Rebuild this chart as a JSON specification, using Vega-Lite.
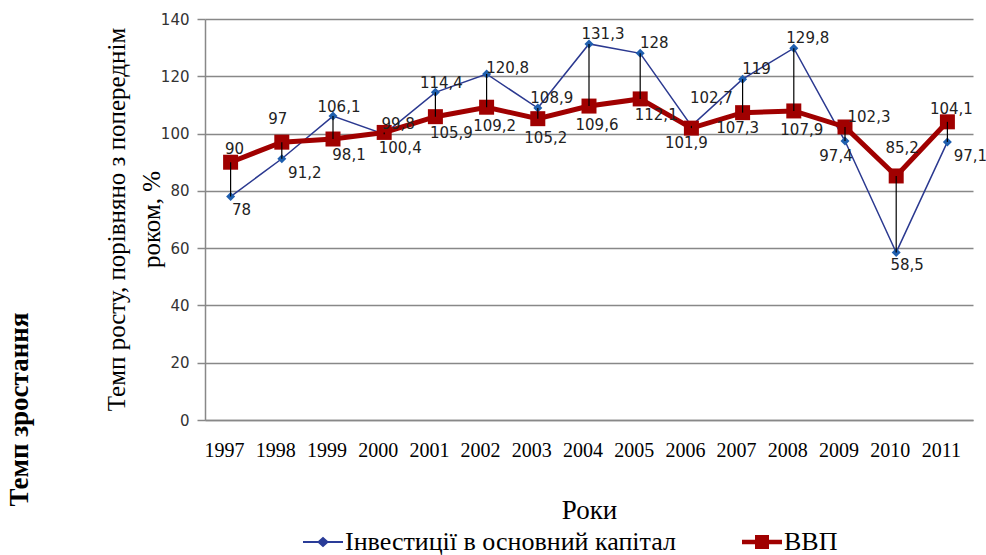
{
  "$schema": "https://vega.github.io/schema/vega-lite/v6.json",
  "width": 768,
  "height": 401,
  "autosize": {"type": "none"},
  "padding": {"left": 205, "top": 19, "right": 13, "bottom": 135},
  "background": "white",
  "title": {
    "text": "Темп зростання",
    "orient": "left",
    "anchor": "middle",
    "font": "Liberation Serif",
    "fontSize": 27,
    "fontWeight": "bold",
    "color": "#000",
    "offset": 70,
    "dx": -190
  },
  "config": {
    "view": {"stroke": null},
    "legend": {"labelFont": "Liberation Serif", "labelFontSize": 26, "labelColor": "#000"},
    "axisY": {"titleFont": "Liberation Serif"},
    "locale": {"number": {"decimal": ",", "thousands": " ", "grouping": [3], "currency": ["", ""]}}
  },
  "data": {
    "values": [
      {"year": "1997", "series": "Інвестиції в основний капітал", "value": 78},
      {"year": "1998", "series": "Інвестиції в основний капітал", "value": 91.2},
      {"year": "1999", "series": "Інвестиції в основний капітал", "value": 106.1},
      {"year": "2000", "series": "Інвестиції в основний капітал", "value": 99.8},
      {"year": "2001", "series": "Інвестиції в основний капітал", "value": 114.4},
      {"year": "2002", "series": "Інвестиції в основний капітал", "value": 120.8},
      {"year": "2003", "series": "Інвестиції в основний капітал", "value": 108.9},
      {"year": "2004", "series": "Інвестиції в основний капітал", "value": 131.3},
      {"year": "2005", "series": "Інвестиції в основний капітал", "value": 128},
      {"year": "2006", "series": "Інвестиції в основний капітал", "value": 102.7},
      {"year": "2007", "series": "Інвестиції в основний капітал", "value": 119},
      {"year": "2008", "series": "Інвестиції в основний капітал", "value": 129.8},
      {"year": "2009", "series": "Інвестиції в основний капітал", "value": 97.4},
      {"year": "2010", "series": "Інвестиції в основний капітал", "value": 58.5},
      {"year": "2011", "series": "Інвестиції в основний капітал", "value": 97.1},
      {"year": "1997", "series": "ВВП", "value": 90},
      {"year": "1998", "series": "ВВП", "value": 97},
      {"year": "1999", "series": "ВВП", "value": 98.1},
      {"year": "2000", "series": "ВВП", "value": 100.4},
      {"year": "2001", "series": "ВВП", "value": 105.9},
      {"year": "2002", "series": "ВВП", "value": 109.2},
      {"year": "2003", "series": "ВВП", "value": 105.2},
      {"year": "2004", "series": "ВВП", "value": 109.6},
      {"year": "2005", "series": "ВВП", "value": 112.1},
      {"year": "2006", "series": "ВВП", "value": 101.9},
      {"year": "2007", "series": "ВВП", "value": 107.3},
      {"year": "2008", "series": "ВВП", "value": 107.9},
      {"year": "2009", "series": "ВВП", "value": 102.3},
      {"year": "2010", "series": "ВВП", "value": 85.2},
      {"year": "2011", "series": "ВВП", "value": 104.1}
    ]
  },
  "encoding": {
    "x": {
      "field": "year",
      "type": "ordinal",
      "sort": "ascending",
      "scale": {"type": "band", "paddingInner": 0, "paddingOuter": 0},
      "axis": {
        "title": "Роки",
        "titleFont": "Liberation Serif",
        "titleFontSize": 27,
        "titleFontWeight": "normal",
        "titleColor": "#000",
        "titleY": 98,
        "titleBaseline": "alphabetic",
        "labelAngle": 0,
        "labelFont": "Liberation Serif",
        "labelFontSize": 20,
        "labelColor": "#000",
        "labelPadding": 20,
        "labelOffset": -6,
        "ticks": false,
        "grid": false,
        "domainColor": "#888",
        "domainWidth": 1.5
      }
    },
    "y": {
      "field": "value",
      "type": "quantitative",
      "scale": {"domain": [0, 140], "nice": false},
      "axis": {
        "values": [0, 20, 40, 60, 80, 100, 120, 140],
        "title": ["Темп росту, порівняно з попереднім", "роком, %"],
        "titleFont": "Liberation Serif",
        "titleFontSize": 25,
        "titleFontWeight": "normal",
        "titleColor": "#000",
        "titleX": -101,
        "titleY": 200,
        "titleAlign": "center",
        "titleBaseline": "top",
        "titleLineHeight": 35,
        "labelFont": "DejaVu Sans",
        "labelFontSize": 15,
        "labelColor": "#333",
        "labelPadding": 8,
        "tickSize": 8,
        "tickColor": "#888",
        "tickWidth": 1.5,
        "domainColor": "#888",
        "domainWidth": 1.5,
        "gridColor": "#888",
        "gridWidth": 1.5
      }
    }
  },
  "layer": [
    {
      "transform": [{"filter": "datum.series != 'ВВП'"}],
      "mark": {"type": "line", "color": "#2B3990", "strokeWidth": 1.5}
    },
    {
      "transform": [{"filter": "datum.series != 'ВВП'"}],
      "mark": {"type": "point", "shape": "diamond", "filled": true, "size": 81, "color": "#1F5FAF", "opacity": 1}
    },
    {
      "transform": [{"filter": "datum.series == 'ВВП'"}],
      "mark": {"type": "line", "color": "#A00000", "strokeWidth": 5}
    },
    {
      "transform": [{"filter": "datum.series == 'ВВП'"}],
      "mark": {"type": "point", "shape": "square", "filled": true, "size": 225, "color": "#A00000", "opacity": 1}
    },
    {
      "mark": {"type": "rule", "color": "#000", "strokeWidth": 1.2},
      "encoding": {
        "y": {"aggregate": "min", "field": "value", "type": "quantitative"},
        "y2": {"aggregate": "max", "field": "value"}
      }
    },
    {
      "mark": {"type": "point", "filled": true, "opacity": 0},
      "encoding": {
        "color": {
          "field": "series",
          "type": "nominal",
          "scale": {"domain": ["Інвестиції в основний капітал", "ВВП"], "range": ["#2A3C98", "#A00000"]},
          "legend": {
            "title": null,
            "orient": "none",
            "legendX": 98,
            "legendY": 503,
            "direction": "horizontal",
            "columns": 2,
            "columnPadding": 66,
            "symbolSize": 1600,
            "symbolOpacity": 1,
            "symbolStrokeWidth": 0,
            "labelFont": "Liberation Serif",
            "labelFontSize": 26,
            "labelColor": "#000",
            "labelOffset": 2,
            "labelLimit": 0
          }
        },
        "shape": {
          "field": "series",
          "type": "nominal",
          "scale": {
            "domain": ["Інвестиції в основний капітал", "ВВП"],
            "range": [
              "M-1,-0.045L-0.24,-0.045L0,-0.26L0.24,-0.045L1,-0.045L1,0.045L0.24,0.045L0,0.26L-0.24,0.045L-1,0.045Z",
              "M-1,-0.11L-0.35,-0.11L-0.35,-0.35L0.35,-0.35L0.35,-0.11L1,-0.11L1,0.11L0.35,0.11L0.35,0.35L-0.35,0.35L-0.35,0.11L-1,0.11Z"
            ]
          },
          "legend": {
            "title": null,
            "orient": "none",
            "legendX": 98,
            "legendY": 503,
            "direction": "horizontal",
            "columns": 2,
            "columnPadding": 66,
            "symbolSize": 1600,
            "symbolOpacity": 1,
            "symbolStrokeWidth": 0,
            "labelFont": "Liberation Serif",
            "labelFontSize": 26,
            "labelColor": "#000",
            "labelOffset": 2,
            "labelLimit": 0
          }
        }
      }
    },
    {
      "transform": [{"filter": "datum.series != 'ВВП' && indexof(['1997','2010'], datum.year) >= 0"}],
      "mark": {"type": "text", "font": "DejaVu Sans", "fontSize": 15, "color": "#222", "align": "center", "baseline": "middle", "dx": 11, "dy": 13},
      "encoding": {"text": {"field": "value", "type": "quantitative", "format": ".1~f"}}
    },
    {
      "transform": [{"filter": "datum.series != 'ВВП' && indexof(['1998','2011'], datum.year) >= 0"}],
      "mark": {"type": "text", "font": "DejaVu Sans", "fontSize": 15, "color": "#222", "align": "center", "baseline": "middle", "dx": 23, "dy": 14},
      "encoding": {"text": {"field": "value", "type": "quantitative", "format": ".1~f"}}
    },
    {
      "transform": [{"filter": "datum.series != 'ВВП' && indexof(['2000','2003','2004','2005','2007','2008'], datum.year) >= 0"}],
      "mark": {"type": "text", "font": "DejaVu Sans", "fontSize": 15, "color": "#222", "align": "center", "baseline": "middle", "dx": 14, "dy": -10},
      "encoding": {"text": {"field": "value", "type": "quantitative", "format": ".1~f"}}
    },
    {
      "transform": [{"filter": "datum.series != 'ВВП' && datum.year == '2002'"}],
      "mark": {"type": "text", "font": "DejaVu Sans", "fontSize": 15, "color": "#222", "align": "center", "baseline": "middle", "dx": 21, "dy": -6},
      "encoding": {"text": {"field": "value", "type": "quantitative", "format": ".1~f"}}
    },
    {
      "transform": [{"filter": "datum.series != 'ВВП' && indexof(['1999','2001'], datum.year) >= 0"}],
      "mark": {"type": "text", "font": "DejaVu Sans", "fontSize": 15, "color": "#222", "align": "center", "baseline": "middle", "dx": 6, "dy": -9},
      "encoding": {"text": {"field": "value", "type": "quantitative", "format": ".1~f"}}
    },
    {
      "transform": [{"filter": "datum.series != 'ВВП' && datum.year == '2006'"}],
      "mark": {"type": "text", "font": "DejaVu Sans", "fontSize": 15, "color": "#222", "align": "center", "baseline": "middle", "dx": 20, "dy": -28},
      "encoding": {"text": {"field": "value", "type": "quantitative", "format": ".1~f"}}
    },
    {
      "transform": [{"filter": "datum.series != 'ВВП' && datum.year == '2009'"}],
      "mark": {"type": "text", "font": "DejaVu Sans", "fontSize": 15, "color": "#222", "align": "center", "baseline": "middle", "dx": -9, "dy": 15},
      "encoding": {"text": {"field": "value", "type": "quantitative", "format": ".1~f"}}
    },
    {
      "transform": [{"filter": "datum.series == 'ВВП' && indexof(['1997','2011'], datum.year) >= 0"}],
      "mark": {"type": "text", "font": "DejaVu Sans", "fontSize": 15, "color": "#222", "align": "center", "baseline": "middle", "dx": 4, "dy": -13},
      "encoding": {"text": {"field": "value", "type": "quantitative", "format": ".1~f"}}
    },
    {
      "transform": [{"filter": "datum.series == 'ВВП' && datum.year == '1998'"}],
      "mark": {"type": "text", "font": "DejaVu Sans", "fontSize": 15, "color": "#222", "align": "center", "baseline": "middle", "dx": -4, "dy": -23},
      "encoding": {"text": {"field": "value", "type": "quantitative", "format": ".1~f"}}
    },
    {
      "transform": [{"filter": "datum.series == 'ВВП' && indexof(['1999','2000','2001','2005'], datum.year) >= 0"}],
      "mark": {"type": "text", "font": "DejaVu Sans", "fontSize": 15, "color": "#222", "align": "center", "baseline": "middle", "dx": 16, "dy": 16},
      "encoding": {"text": {"field": "value", "type": "quantitative", "format": ".1~f"}}
    },
    {
      "transform": [{"filter": "datum.series == 'ВВП' && indexof(['2002','2003','2004','2008'], datum.year) >= 0"}],
      "mark": {"type": "text", "font": "DejaVu Sans", "fontSize": 15, "color": "#222", "align": "center", "baseline": "middle", "dx": 8, "dy": 19},
      "encoding": {"text": {"field": "value", "type": "quantitative", "format": ".1~f"}}
    },
    {
      "transform": [{"filter": "datum.series == 'ВВП' && indexof(['2006','2007'], datum.year) >= 0"}],
      "mark": {"type": "text", "font": "DejaVu Sans", "fontSize": 15, "color": "#222", "align": "center", "baseline": "middle", "dx": -5, "dy": 15},
      "encoding": {"text": {"field": "value", "type": "quantitative", "format": ".1~f"}}
    },
    {
      "transform": [{"filter": "datum.series == 'ВВП' && datum.year == '2009'"}],
      "mark": {"type": "text", "font": "DejaVu Sans", "fontSize": 15, "color": "#222", "align": "center", "baseline": "middle", "dx": 24, "dy": -10},
      "encoding": {"text": {"field": "value", "type": "quantitative", "format": ".1~f"}}
    },
    {
      "transform": [{"filter": "datum.series == 'ВВП' && datum.year == '2010'"}],
      "mark": {"type": "text", "font": "DejaVu Sans", "fontSize": 15, "color": "#222", "align": "center", "baseline": "middle", "dx": 6, "dy": -28},
      "encoding": {"text": {"field": "value", "type": "quantitative", "format": ".1~f"}}
    }
  ]
}
